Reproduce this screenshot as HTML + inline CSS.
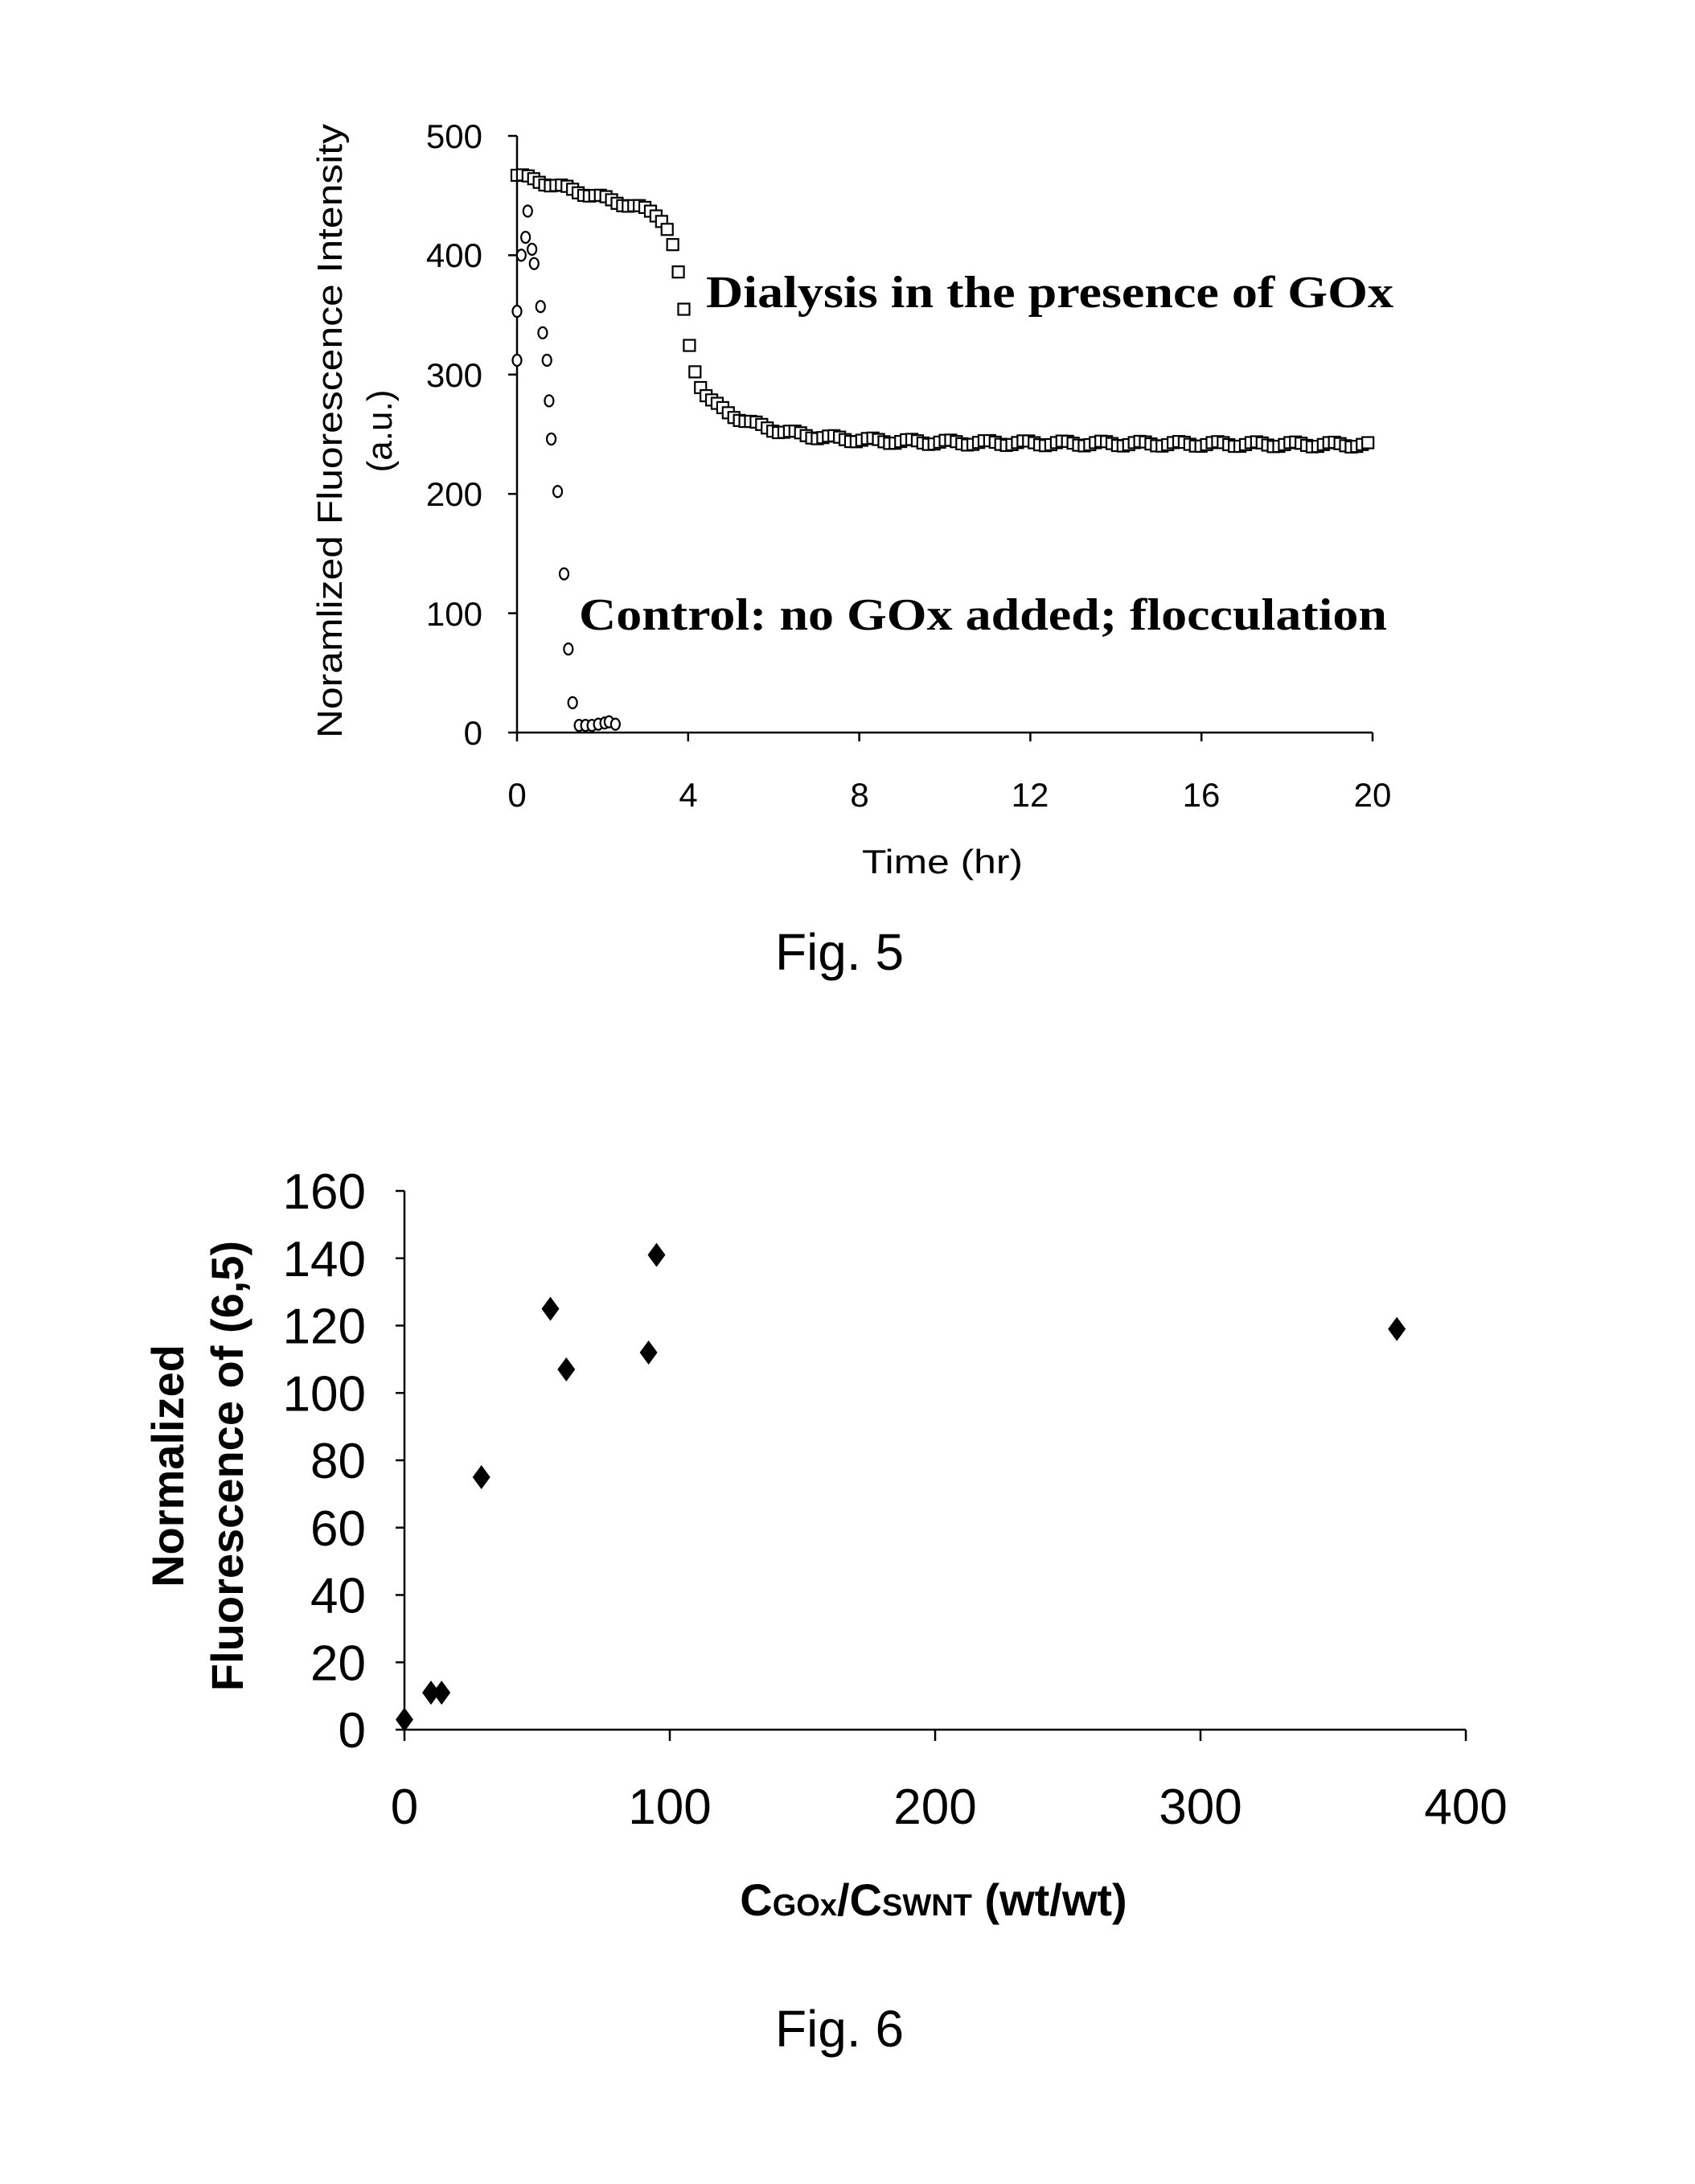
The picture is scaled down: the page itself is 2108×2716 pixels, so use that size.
<!DOCTYPE html>
<html><head><meta charset="utf-8"><style>
html,body{margin:0;padding:0;background:#fff;}
svg{display:block;}
text{fill:#000;}
.ax{font-family:"Liberation Sans",sans-serif;}
.sr{font-family:"Liberation Serif",serif;font-weight:bold;}
</style></head><body>
<svg id="s" width="2108" height="2716" viewBox="0 0 2108 2716" xmlns="http://www.w3.org/2000/svg">
<rect width="2108" height="2716" fill="#fff"/>
<g stroke="#000" stroke-width="2.5" fill="none">
<line x1="643" y1="169" x2="643" y2="911"/>
<line x1="643" y1="911" x2="1707" y2="911"/>
</g>
<g id="f5t" stroke="#000" stroke-width="2.5"></g>
<g class="ax" font-size="42" text-anchor="end">
<text x="600" y="184">500</text>
<text x="600" y="332">400</text>
<text x="600" y="481">300</text>
<text x="600" y="629">200</text>
<text x="600" y="778">100</text>
<text x="600" y="926">0</text>
</g>
<g class="ax" font-size="42" text-anchor="middle">
<text x="643" y="1003">0</text>
<text x="856" y="1003">4</text>
<text x="1069" y="1003">8</text>
<text x="1281" y="1003">12</text>
<text x="1494" y="1003">16</text>
<text x="1707" y="1003">20</text>
<text x="1172" y="1086" textLength="200" lengthAdjust="spacingAndGlyphs">Time (hr)</text>
</g>
<text class="ax" font-size="44" text-anchor="middle" textLength="764" lengthAdjust="spacingAndGlyphs" transform="translate(425,536) rotate(-90)">Noramlized Fluorescence Intensity</text>
<text class="ax" font-size="44" text-anchor="middle" transform="translate(487,536) rotate(-90)">(a.u.)</text>
<text class="sr" font-size="56" x="878" y="382" textLength="855" lengthAdjust="spacingAndGlyphs">Dialysis in the presence of GOx</text>
<text class="sr" font-size="56" x="720" y="783" textLength="1005" lengthAdjust="spacingAndGlyphs">Control: no GOx added; flocculation</text>
<text class="ax" font-size="64" x="1044" y="1206" text-anchor="middle">Fig. 5</text>
<g id="sq" fill="#fff" stroke="#000" stroke-width="2.2"></g>
<g id="ci" fill="#fff" stroke="#000" stroke-width="2.2"></g>

<g stroke="#000" stroke-width="2.5" fill="none">
<line x1="503" y1="1481" x2="503" y2="2151"/>
<line x1="503" y1="2151" x2="1823" y2="2151"/>
</g>
<g id="f6t" stroke="#000" stroke-width="2.5"></g>
<g class="ax" font-size="62" text-anchor="end" id="f6y"></g>
<g class="ax" font-size="62" text-anchor="middle">
<text x="503" y="2268">0</text>
<text x="833" y="2268">100</text>
<text x="1163" y="2268">200</text>
<text x="1493" y="2268">300</text>
<text x="1823" y="2268">400</text>
</g>
<text class="ax" font-weight="bold" font-size="56" text-anchor="middle" transform="translate(228,1823) rotate(-90)">Normalized</text>
<text class="ax" font-weight="bold" font-size="56" text-anchor="middle" transform="translate(302,1823) rotate(-90)">Fluorescence of (6,5)</text>
<text class="ax" font-weight="bold" font-size="56" x="1161" y="2382" text-anchor="middle">C<tspan font-size="38">GOx</tspan>/C<tspan font-size="38">SWNT</tspan> (wt/wt)</text>
<text class="ax" font-size="64" x="1044" y="2545" text-anchor="middle">Fig. 6</text>
<g id="dm" fill="#000"></g>
</svg>
<script>
(function(){
var NS="http://www.w3.org/2000/svg";
function el(p,n,a){var e=document.createElementNS(NS,n);for(var k in a)e.setAttribute(k,a[k]);document.getElementById(p).appendChild(e);return e;}
for(var v=0;v<=500;v+=100){var y=911-1.484*v;el("f5t","line",{x1:632,y1:y,x2:643,y2:y});}
for(var t=0;t<=20;t+=4){var x=643+53.2*t;el("f5t","line",{x1:x,y1:911,x2:x,y2:922});}
function X5(t){return 643+53.2*t;}function Y5(v){return 911-1.484*v;}
for(var t=0;t<=20.01;t+=0.13){
 var hi=467-9.5*t, lo=243+40*Math.exp(-(t-4.3)/1.3)-0.15*(t-8);
 var v=lo+(hi-lo)/(1+Math.exp((t-3.85)/0.15));
 v+=Math.sin(t*7)*2;
 el("sq","rect",{x:X5(t)-7,y:Y5(v)-7,width:14,height:14});
}
var c=[[0,312],[0,353],[0.1,400],[0.2,415],[0.25,437],[0.35,405],[0.4,393],[0.55,357],[0.6,335],[0.7,312],[0.75,278],[0.8,246],[0.95,202],[1.1,133],[1.2,70],[1.3,25],[1.45,6],[1.6,6],[1.75,6],[1.9,7],[2.05,8],[2.15,9],[2.3,7]];
c.forEach(function(p){el("ci","ellipse",{cx:X5(p[0]),cy:Y5(p[1]),rx:5.5,ry:7});});
for(var v=0;v<=160;v+=20){var y=2151-4.1875*v;el("f6t","line",{x1:492,y1:y,x2:503,y2:y});var tx=el("f6y","text",{x:455,y:y+22});tx.textContent=v;}
for(var x=0;x<=400;x+=100){var xx=503+3.3*x;el("f6t","line",{x1:xx,y1:2151,x2:xx,y2:2165});}
[[0,3],[10,11],[14,11],[29,75],[55,125],[61,107],[92,112],[95,141],[374,119]].forEach(function(p){
 var x=503+3.3*p[0],y=2151-4.1875*p[1];
 el("dm","polygon",{points:(x)+","+(y-15)+" "+(x+11)+","+y+" "+x+","+(y+15)+" "+(x-11)+","+y});
});
})();
</script>
</body></html>
